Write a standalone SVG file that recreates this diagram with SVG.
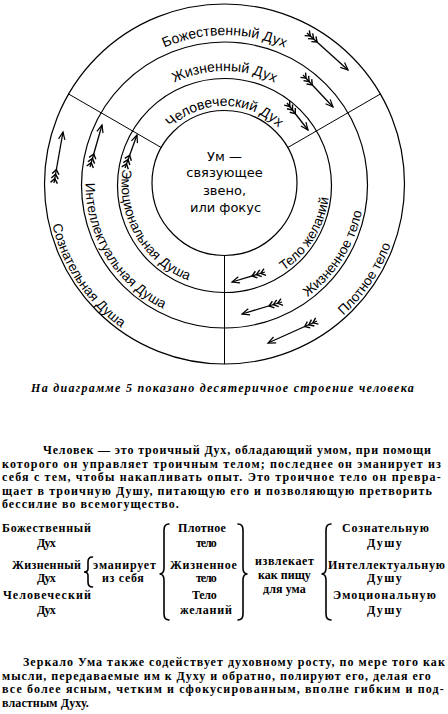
<svg xmlns="http://www.w3.org/2000/svg" width="448" height="714" viewBox="0 0 448 714">
<style>
.ring{fill:none;stroke:#000;stroke-width:1.2}
.div{fill:none;stroke:#000;stroke-width:1}
.lbl{font-family:"Liberation Sans",Arial,sans-serif;font-size:13.5px;fill:#000}
.top{font-size:14px}
.mind{font-family:"DejaVu Sans",sans-serif;font-size:13px;fill:#000}
.body{font-family:"Liberation Serif","Times New Roman",serif;font-size:12px;font-weight:bold;letter-spacing:1.2px;fill:#000}
.cap{font-style:italic}
.arr{fill:none;stroke:#000;stroke-width:1.3;marker-start:url(#fl);marker-end:url(#hd)}
.brace{fill:none;stroke:#000;stroke-width:1.6;stroke-linecap:round}
</style>
<defs>
<marker id="hd" markerUnits="userSpaceOnUse" markerWidth="10" markerHeight="10" refX="0" refY="0" orient="auto" style="overflow:visible">
<path d="M-7.5,-3.2 L0,0 L-7.5,3.2" fill="none" stroke="#000" stroke-width="1.2"/>
</marker>
<marker id="fl" markerUnits="userSpaceOnUse" markerWidth="16" markerHeight="10" refX="0" refY="0" orient="auto" style="overflow:visible">
<path d="M0,-3.5 L4.5,0 L0,3.5 M4.5,-3.5 L9,0 L4.5,3.5 M9,-3.5 L13.5,0 L9,3.5" fill="none" stroke="#000" stroke-width="1.4"/>
</marker>
<path id="pBoz" d="M95.47,109.5 A149,149 0 0 1 353.53,109.5"/>
<path id="pZhD" d="M126.64,127.5 A113,113 0 0 1 322.36,127.5"/>
<path id="pChD" d="M156.95,145 A78,78 0 0 1 292.05,145"/>
<path id="pEmo" d="M134.85,133.28 A103,103 0 0 0 225.4,287"/>
<path id="pInt" d="M102.11,118.1 A139,139 0 0 0 228.62,322.94"/>
<path id="pSoz" d="M65.68,105.85 A177,177 0 0 0 236.23,360.61"/>
<path id="pTel" d="M221.57,288.96 A105,105 0 0 0 316.86,134.06"/>
<path id="pZhT" d="M218.39,323.87 A140,140 0 0 0 348.68,119.36"/>
<path id="pPlt" d="M212.15,360.57 A177,177 0 0 0 383.59,106.4"/>
</defs>
<rect width="448" height="714" fill="#fff"/>

<g id="rings">
<circle class="ring" cx="224.5" cy="184" r="180"/>
<circle class="ring" cx="224.5" cy="185" r="143"/>
<circle class="ring" cx="224.5" cy="185.5" r="107"/>
<circle class="ring" cx="224.5" cy="183" r="72.5"/>
<line class="div" x1="161.7" y1="147.8" x2="68.6" y2="94"/>
<line class="div" x1="287.3" y1="147.8" x2="380.4" y2="94"/>
<line class="div" x1="224.5" y1="255.5" x2="224.5" y2="364"/>
</g>

<g id="node-mind">
<text class="mind" text-anchor="middle" x="224.5" y="160.5">Ум —</text>
<text class="mind" text-anchor="middle" x="224.5" y="177">связующее</text>
<text class="mind" text-anchor="middle" x="224.5" y="195">звено,</text>
<text class="mind" text-anchor="middle" x="225.5" y="212">или фокус</text>
</g>

<g id="node-spirit">
<text class="lbl top"><textPath href="#pBoz" startOffset="50%" text-anchor="middle">Божественный Дух</textPath></text>
<text class="lbl top"><textPath href="#pZhD" startOffset="50%" text-anchor="middle">Жизненный Дух</textPath></text>
<text class="lbl top"><textPath href="#pChD" startOffset="50%" text-anchor="middle">Человеческий Дух</textPath></text>
</g>

<g id="node-soul">
<text class="lbl"><textPath href="#pEmo" startOffset="50%" text-anchor="middle">Эмоциональная Душа</textPath></text>
<text class="lbl"><textPath href="#pInt" startOffset="50%" text-anchor="middle">Интеллектуальная Душа</textPath></text>
<text class="lbl"><textPath href="#pSoz" startOffset="50%" text-anchor="middle">Сознательная Душа</textPath></text>
</g>

<g id="node-body">
<text class="lbl"><textPath href="#pTel" startOffset="50%" text-anchor="middle">Тело желаний</textPath></text>
<text class="lbl"><textPath href="#pZhT" startOffset="50%" text-anchor="middle">Жизненное тело</textPath></text>
<text class="lbl"><textPath href="#pPlt" startOffset="50%" text-anchor="middle">Плотное тело</textPath></text>
</g>

<g id="connectors">
<path class="arr" d="M307,33 L348,70"/>
<path class="arr" d="M303,75 L333,107"/>
<path class="arr" d="M287,103 L308,130"/>
<path class="arr" d="M54,183 L63,132"/>
<path class="arr" d="M90,167 L102,125"/>
<path class="arr" d="M125,168 L137,135"/>
<path class="arr" d="M317,321 L268,343"/>
<path class="arr" d="M282,302 L242,314"/>
<path class="arr" d="M265,272 L232,282"/>
</g>

<g id="caption">
<text class="body cap" x="31" y="392" textLength="384" lengthAdjust="spacing">На диаграмме 5 показано десятеричное строение человека</text>
</g>

<g id="paragraph-1">
<text class="body" x="43" y="454" textLength="389" lengthAdjust="spacing">Человек — это троичный Дух, обладающий умом, при помощи</text>
<text class="body" x="2" y="467.5" textLength="440" lengthAdjust="spacing">которого он управляет троичным телом; последнее он эманирует из</text>
<text class="body" x="2" y="481" textLength="440" lengthAdjust="spacing">себя с тем, чтобы накапливать опыт. Это троичное тело он превра-</text>
<text class="body" x="2" y="494.5" textLength="431" lengthAdjust="spacing">щает в троичную Душу, питающую его и позволяющую претворить</text>
<text class="body" x="2" y="508" textLength="178" lengthAdjust="spacing">бессилие во всемогущество.</text>
</g>

<g id="scheme">
<g id="col-spirit" class="body">
<text x="2" y="532" textLength="90" lengthAdjust="spacing">Божественный</text>
<text x="37" y="547" textLength="20" lengthAdjust="spacing">Дух</text>
<text x="12" y="569" textLength="70" lengthAdjust="spacing">Жизненный</text>
<text x="37" y="582" textLength="20" lengthAdjust="spacing">Дух</text>
<text x="3" y="599" textLength="89" lengthAdjust="spacing">Человеческий</text>
<text x="37" y="614" textLength="20" lengthAdjust="spacing">Дух</text>
</g>
<path class="brace" d="M92.5,557 Q88,557 88,562 L88,568.5 Q88,572 84,572 Q88,572 88,575.5 L88,582 Q88,587 92.5,587"/>
<g id="emanates" class="body">
<text x="93" y="569" textLength="64" lengthAdjust="spacing">эманирует</text>
<text x="102" y="582" textLength="43" lengthAdjust="spacing">из себя</text>
</g>
<path class="brace" d="M169,524 Q164,524 164,530 L164,568 Q164,574 159.5,574 Q164,574 164,580 L164,614 Q164,620 169,620"/>
<g id="col-body" class="body">
<text x="178" y="532" textLength="49" lengthAdjust="spacing">Плотное</text>
<text x="196" y="547" textLength="22" lengthAdjust="spacing">тело</text>
<text x="170" y="569" textLength="68" lengthAdjust="spacing">Жизненное</text>
<text x="196" y="582" textLength="22" lengthAdjust="spacing">тело</text>
<text x="192" y="599" textLength="26" lengthAdjust="spacing">Тело</text>
<text x="180" y="614" textLength="53" lengthAdjust="spacing">желаний</text>
</g>
<path class="brace" d="M238,524 Q243,524 243,530 L243,568 Q243,574 247.5,574 Q243,574 243,580 L243,614 Q243,620 238,620"/>
<g id="extracts" class="body">
<text x="255" y="565" textLength="60" lengthAdjust="spacing">извлекает</text>
<text x="258" y="579" textLength="54" lengthAdjust="spacing">как пищу</text>
<text x="263" y="593" textLength="44" lengthAdjust="spacing">для ума</text>
</g>
<path class="brace" d="M331,524 Q326,524 326,530 L326,568 Q326,574 321.5,574 Q326,574 326,580 L326,614 Q326,620 331,620"/>
<g id="col-soul" class="body">
<text x="342" y="532" textLength="88" lengthAdjust="spacing">Сознательную</text>
<text x="367" y="547" textLength="36" lengthAdjust="spacing">Душу</text>
<text x="328" y="569" textLength="118" lengthAdjust="spacing">Интеллектуальную</text>
<text x="367" y="582" textLength="36" lengthAdjust="spacing">Душу</text>
<text x="333" y="599" textLength="104" lengthAdjust="spacing">Эмоциональную</text>
<text x="367" y="614" textLength="36" lengthAdjust="spacing">Душу</text>
</g>
</g>

<g id="paragraph-2">
<text class="body" x="23" y="666" textLength="423" lengthAdjust="spacing">Зеркало Ума также содействует духовному росту, по мере того как</text>
<text class="body" x="2" y="679.5" textLength="430" lengthAdjust="spacing">мысли, передаваемые им к Духу и обратно, полируют его, делая его</text>
<text class="body" x="2" y="693" textLength="443" lengthAdjust="spacing">все более ясным,  четким и сфокусированным, вполне гибким и под-</text>
<text class="body" x="2" y="706.5" textLength="88" lengthAdjust="spacing">властным Духу.</text>
</g>
</svg>
